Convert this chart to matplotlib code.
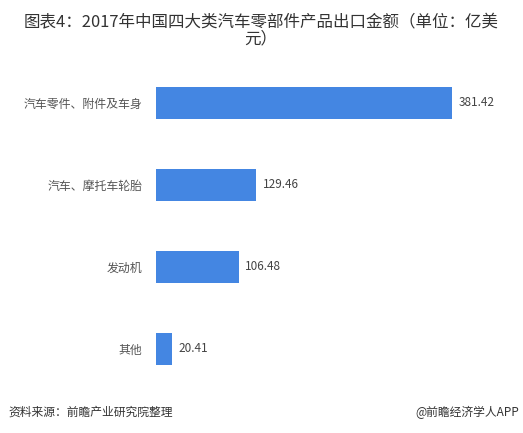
import matplotlib
matplotlib.use('Agg')
from matplotlib import pyplot as plt

plt.rcParams['font.family'] = ['Noto Sans CJK SC', 'DejaVu Sans']

# data
categories = ['汽车零件、附件及车身', '汽车、摩托车轮胎', '发动机', '其他']
values = [381.42, 129.46, 106.48, 20.41]
value_labels = ['381.42', '129.46', '106.48', '20.41']

W, H = 523, 433
fig = plt.figure(figsize=(W / 100, H / 100), dpi=100)
fig.patch.set_facecolor('white')

# axes placed in pixel coords
left, right, top, bottom = 156, 500, 62, 390
ax = fig.add_axes([left / W, 1 - bottom / H, (right - left) / W, (bottom - top) / H])
ax.set_xlim(0, (right - left) / 0.776)
ax.set_ylim(len(categories) - 0.5, -0.5)

pos = list(range(len(categories)))
ax.barh(pos, values, height=0.4, color='#4486E2')
for p, v, lab in zip(pos, values, value_labels):
    ax.text(v + 8, p, lab, va='center', ha='left', fontsize=8.5, color='#444444')

ax.set_yticks(pos)
ax.set_yticklabels(categories, fontsize=8.6, color='#555555')
ax.tick_params(axis='y', length=0, pad=10)
ax.set_xticks([])
for s in ax.spines.values():
    s.set_visible(False)

fig.text(261 / W, 1 - 14 / H, '图表4：2017年中国四大类汽车零部件产品出口金额（单位：亿美\n元）',
         ha='center', va='top', fontsize=11.9, color='#333333', linespacing=0.95)
fig.text(8 / W, 1 - 412 / H, '资料来源：前瞻产业研究院整理', ha='left', va='center',
         fontsize=8.5, color='#333333', style='italic')
fig.text(519 / W, 1 - 412 / H, '@前瞻经济学人APP', ha='right', va='center',
         fontsize=8.5, color='#333333')

fig.savefig('out.png', dpi=100)
